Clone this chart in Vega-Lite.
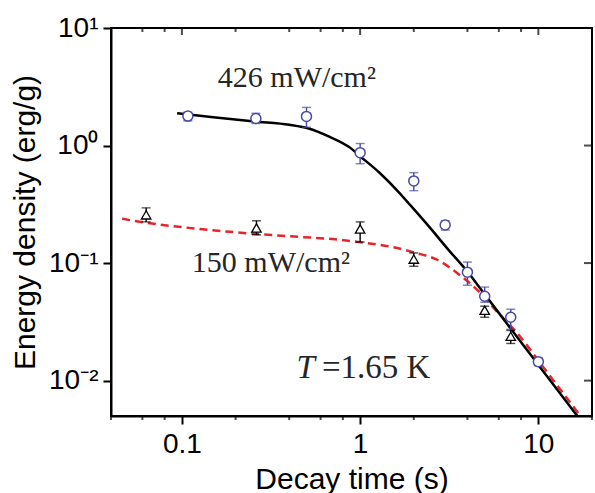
{
  "$schema": "https://vega.github.io/schema/vega-lite/v6.json",
  "width": 481,
  "height": 388,
  "autosize": "none",
  "padding": {"left": 111, "top": 28, "right": 3, "bottom": 77},
  "background": "white",
  "config": {
    "view": {"stroke": null},
    "axis": {
      "grid": false,
      "domainColor": "black",
      "domainWidth": 2,
      "tickColor": "black",
      "tickWidth": 2,
      "labelColor": "black",
      "titleColor": "black",
      "labelFont": "Liberation Sans",
      "titleFont": "Liberation Sans",
      "titleFontWeight": "normal",
      "labelOverlap": false,
      "labelFlush": false
    }
  },
  "resolve": {"axis": {"x": "independent", "y": "independent"}},
  "datasets": {
    "fit426": [
      {"x": 0.094, "y": 1.88}, {"x": 0.15, "y": 1.74}, {"x": 0.256, "y": 1.6},
      {"x": 0.401, "y": 1.5}, {"x": 0.519, "y": 1.39}, {"x": 0.671, "y": 1.19},
      {"x": 0.868, "y": 0.97}, {"x": 1.01, "y": 0.8}, {"x": 1.28, "y": 0.59},
      {"x": 1.65, "y": 0.4}, {"x": 1.88, "y": 0.32}, {"x": 2.43, "y": 0.205},
      {"x": 3.14, "y": 0.129}, {"x": 4.06, "y": 0.0822}, {"x": 4.62, "y": 0.0635},
      {"x": 6.0, "y": 0.0377}, {"x": 7.73, "y": 0.0227}, {"x": 10.0, "y": 0.0136},
      {"x": 12.9, "y": 0.0082}, {"x": 16.7, "y": 0.0049}
    ],
    "fit150": [
      {"x": 0.0462, "y": 0.238}, {"x": 0.0637, "y": 0.22}, {"x": 0.126, "y": 0.195},
      {"x": 0.262, "y": 0.177}, {"x": 0.456, "y": 0.167}, {"x": 0.698, "y": 0.16},
      {"x": 1.08, "y": 0.148}, {"x": 1.51, "y": 0.137}, {"x": 2.05, "y": 0.122},
      {"x": 2.66, "y": 0.108}, {"x": 3.57, "y": 0.0805}, {"x": 4.62, "y": 0.0577},
      {"x": 5.98, "y": 0.0374}, {"x": 7.73, "y": 0.0247}, {"x": 10.0, "y": 0.0148},
      {"x": 12.9, "y": 0.0089}, {"x": 17.5, "y": 0.00485}
    ],
    "circ": [
      {"x": 0.108, "y": 1.78, "lo": 1.62, "hi": 1.92},
      {"x": 0.26, "y": 1.7, "lo": 1.54, "hi": 1.88},
      {"x": 0.5, "y": 1.77, "lo": 1.43, "hi": 2.11},
      {"x": 1.0, "y": 0.87, "lo": 0.7, "hi": 1.04},
      {"x": 2.0, "y": 0.5, "lo": 0.413, "hi": 0.588},
      {"x": 3.0, "y": 0.211, "lo": 0.191, "hi": 0.229},
      {"x": 4.0, "y": 0.0837, "lo": 0.0648, "hi": 0.102},
      {"x": 5.0, "y": 0.0522, "lo": 0.0464, "hi": 0.0625},
      {"x": 7.0, "y": 0.0346, "lo": 0.0273, "hi": 0.0405},
      {"x": 10.0, "y": 0.0145, "lo": 0.0134, "hi": 0.0157}
    ],
    "tri": [
      {"x": 0.063, "y": 0.257, "lo": 0.224, "hi": 0.295},
      {"x": 0.262, "y": 0.199, "lo": 0.174, "hi": 0.229},
      {"x": 1.0, "y": 0.195, "lo": 0.151, "hi": 0.224},
      {"x": 2.0, "y": 0.108, "lo": 0.094, "hi": 0.122},
      {"x": 5.0, "y": 0.0397, "lo": 0.0346, "hi": 0.043},
      {"x": 7.0, "y": 0.0238, "lo": 0.0207, "hi": 0.0267}
    ],
    "box": [{"x": 0.04, "x2": 20, "y": 0.005, "y2": 10}],
    "topmajor": [{"x": 0.1, "y": 10}, {"x": 1, "y": 10}, {"x": 10, "y": 10}],
    "topminor": [
      {"x": 0.04, "y": 10}, {"x": 0.06, "y": 10}, {"x": 0.08, "y": 10}, {"x": 0.2, "y": 10},
      {"x": 0.4, "y": 10}, {"x": 0.6, "y": 10}, {"x": 0.8, "y": 10}, {"x": 2, "y": 10},
      {"x": 4, "y": 10}, {"x": 6, "y": 10}, {"x": 8, "y": 10}, {"x": 20, "y": 10}
    ],
    "botminor": [
      {"x": 0.04, "y": 0.005}, {"x": 0.06, "y": 0.005}, {"x": 0.08, "y": 0.005}, {"x": 0.2, "y": 0.005},
      {"x": 0.4, "y": 0.005}, {"x": 0.6, "y": 0.005}, {"x": 0.8, "y": 0.005}, {"x": 2, "y": 0.005},
      {"x": 4, "y": 0.005}, {"x": 6, "y": 0.005}, {"x": 8, "y": 0.005}, {"x": 20, "y": 0.005}
    ],
    "rightmajor": [{"x": 20, "y": 1}, {"x": 20, "y": 0.1}, {"x": 20, "y": 0.01}],
    "notes": [
      {"x": 0.159, "y": 3.13, "text": "426 mW/cm²"},
      {"x": 0.1137, "y": 0.0838, "text": "150 mW/cm²"}
    ],
    "tvar": [{"x": 0.439, "y": 0.0106, "text": "T"}],
    "tval": [{"x": 0.61, "y": 0.0106, "text": "=1.65 K"}]
  },
  "layer": [
    {
      "data": {"name": "box"},
      "mark": {"type": "rect", "fill": null, "fillOpacity": 0, "stroke": "black", "strokeWidth": 2},
      "encoding": {
        "x": {"field": "x", "type": "quantitative", "scale": {"type": "log", "domain": [0.04, 20], "nice": false}, "axis": null},
        "x2": {"field": "x2"},
        "y": {"field": "y", "type": "quantitative", "scale": {"type": "log", "domain": [0.005, 10], "nice": false}, "axis": null},
        "y2": {"field": "y2"}
      }
    },
    {
      "data": {"name": "topmajor"},
      "mark": {"type": "tick", "orient": "vertical", "size": 14, "thickness": 2, "color": "black", "clip": true},
      "encoding": {
        "x": {"field": "x", "type": "quantitative", "axis": null},
        "y": {"field": "y", "type": "quantitative", "axis": null}
      }
    },
    {
      "data": {"name": "topminor"},
      "mark": {"type": "tick", "orient": "vertical", "size": 8, "thickness": 2, "color": "black", "clip": true},
      "encoding": {
        "x": {"field": "x", "type": "quantitative", "axis": null},
        "y": {"field": "y", "type": "quantitative", "axis": null}
      }
    },
    {
      "data": {"name": "botminor"},
      "mark": {"type": "tick", "orient": "vertical", "size": 4, "yOffset": 2, "thickness": 2, "color": "black"},
      "encoding": {
        "x": {"field": "x", "type": "quantitative", "axis": null},
        "y": {"field": "y", "type": "quantitative", "axis": null}
      }
    },
    {
      "data": {"name": "rightmajor"},
      "mark": {"type": "tick", "orient": "horizontal", "size": 16, "thickness": 2, "color": "black", "clip": true},
      "encoding": {
        "x": {"field": "x", "type": "quantitative", "axis": null},
        "y": {"field": "y", "type": "quantitative", "axis": null}
      }
    },
    {
      "data": {"name": "fit150"},
      "mark": {"type": "line", "color": "#e8242b", "strokeWidth": 2.5, "strokeDash": [8, 5], "interpolate": "monotone", "clip": true},
      "encoding": {
        "x": {"field": "x", "type": "quantitative", "axis": null},
        "y": {"field": "y", "type": "quantitative", "axis": null}
      }
    },
    {
      "data": {"name": "fit426"},
      "mark": {"type": "line", "color": "black", "strokeWidth": 2.5, "interpolate": "monotone", "clip": true},
      "encoding": {
        "x": {"field": "x", "type": "quantitative",
          "axis": {"orient": "bottom", "values": [0.1, 1, 10], "format": "~g", "tickSize": 8, "domain": true,
            "labelFontSize": 28, "labelPadding": 6, "title": "Decay time (s)", "titleFontSize": 30, "titlePadding": 6}},
        "y": {"field": "y", "type": "quantitative",
          "axis": {"orient": "left", "values": [10, 1, 0.1, 0.01], "tickSize": 8, "domain": true,
            "labelFontSize": 28, "labelPadding": 5,
            "labelExpr": "datum.value >= 5 ? '10¹' : datum.value >= 0.5 ? '10⁰' : datum.value >= 0.05 ? '10⁻¹' : '10⁻²'",
            "title": "Energy density (erg/g)", "titleFontSize": 30, "titlePadding": 8}}
      }
    },
    {
      "data": {"name": "circ"},
      "mark": {"type": "errorbar", "ticks": true, "size": 9, "thickness": 1.4, "color": "#4848a8"},
      "encoding": {
        "x": {"field": "x", "type": "quantitative", "axis": null},
        "y": {"field": "lo", "type": "quantitative", "axis": null},
        "y2": {"field": "hi"}
      }
    },
    {
      "data": {"name": "tri"},
      "mark": {"type": "errorbar", "ticks": true, "size": 9, "thickness": 1.4, "color": "black"},
      "encoding": {
        "x": {"field": "x", "type": "quantitative", "axis": null},
        "y": {"field": "lo", "type": "quantitative", "axis": null},
        "y2": {"field": "hi"}
      }
    },
    {
      "data": {"name": "circ"},
      "mark": {"type": "point", "shape": "circle", "size": 100, "filled": true, "fill": "white", "stroke": "#4848a8", "strokeWidth": 1.5, "opacity": 1},
      "encoding": {
        "x": {"field": "x", "type": "quantitative", "axis": null},
        "y": {"field": "y", "type": "quantitative", "axis": null}
      }
    },
    {
      "data": {"name": "tri"},
      "mark": {"type": "point", "shape": "triangle-up", "size": 90, "filled": true, "fill": "white", "stroke": "black", "strokeWidth": 1.3, "opacity": 1},
      "encoding": {
        "x": {"field": "x", "type": "quantitative", "axis": null},
        "y": {"field": "y", "type": "quantitative", "axis": null}
      }
    },
    {
      "data": {"name": "notes"},
      "mark": {"type": "text", "font": "Liberation Serif", "fontSize": 30, "align": "left", "baseline": "alphabetic", "color": "#262626"},
      "encoding": {
        "x": {"field": "x", "type": "quantitative", "axis": null},
        "y": {"field": "y", "type": "quantitative", "axis": null},
        "text": {"field": "text"}
      }
    },
    {
      "data": {"name": "tvar"},
      "mark": {"type": "text", "font": "Liberation Serif", "fontSize": 33, "fontStyle": "italic", "align": "left", "baseline": "alphabetic", "color": "#262626"},
      "encoding": {
        "x": {"field": "x", "type": "quantitative", "axis": null},
        "y": {"field": "y", "type": "quantitative", "axis": null},
        "text": {"field": "text"}
      }
    },
    {
      "data": {"name": "tval"},
      "mark": {"type": "text", "font": "Liberation Serif", "fontSize": 33, "align": "left", "baseline": "alphabetic", "color": "#262626"},
      "encoding": {
        "x": {"field": "x", "type": "quantitative", "axis": null},
        "y": {"field": "y", "type": "quantitative", "axis": null},
        "text": {"field": "text"}
      }
    }
  ]
}
